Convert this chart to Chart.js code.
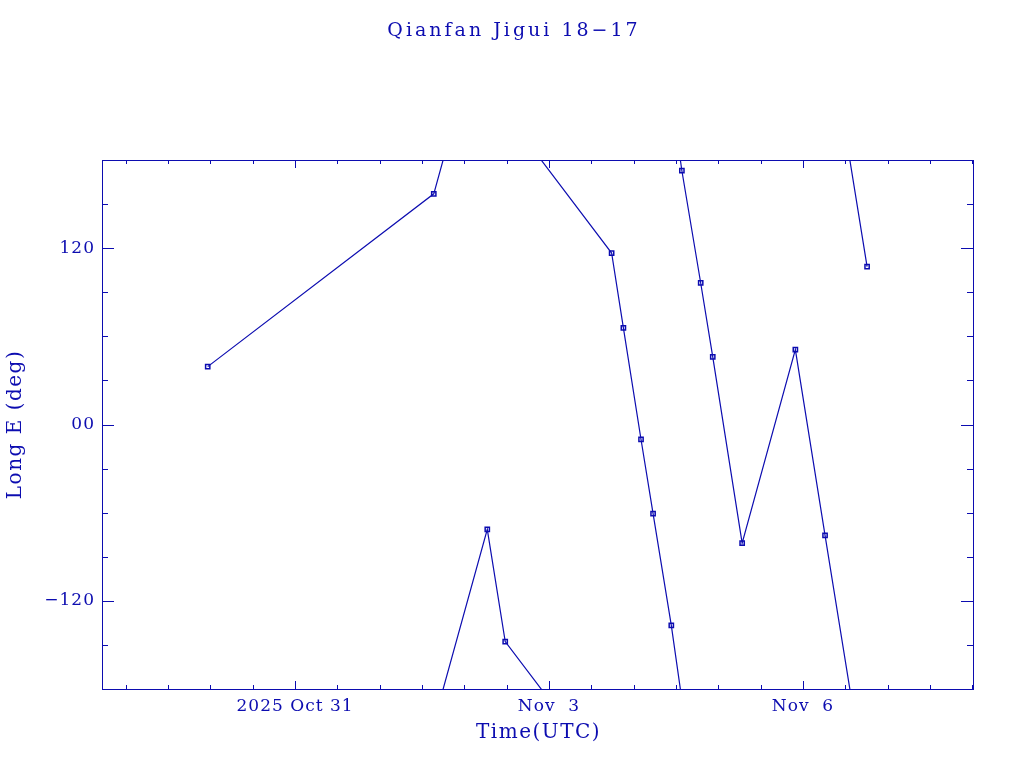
<!DOCTYPE html>
<html>
<head>
<meta charset="utf-8">
<script src="https://cdn.jsdelivr.net/npm/chart.js@4.4.1/dist/chart.umd.min.js"></script>
<style>
  html, body { margin: 0; padding: 0; background: #fff; }
  #wrap { width: 1024px; height: 768px; }
</style>
</head>
<body>
<div id="wrap"><canvas id="c"></canvas></div>
<script>
// observation times (UTC, 2025) and east longitude, deg
const obsTimes = [
  "10-29 23:15", "11-01 15:20", "11-02 06:30", "11-02 11:35",
  "11-03 17:45", "11-03 21:05", "11-04 02:05", "11-04 05:30",
  "11-04 10:40", "11-04 13:40", "11-04 19:00", "11-04 22:25",
  "11-05 06:45", "11-05 21:50", "11-06 06:15", "11-06 18:10"
];
const longE = [
  39.4, 157.0, -71.4, -147.7,
  116.7, 65.7, -10.2, -60.7,
  -136.7, 172.7, 96.3, 46.0,
  -80.7, 51.0, -75.5, 107.4
];

const xTickDays = [0, 3, 6];
const xTickLabels = ["2025 Oct 31", "Nov  3", "Nov  6"];
const yTicks = [-120, 0, 120];
const yTickLabels = ["\u2212120", "00", "120"];

const titleText = "Qianfan Jigui 18\u221217";
const xTitle = "Time(UTC)";
const yTitle = "Long E (deg)";

const X_MIN = -2.28, X_MAX = 8.008;
const Y_MIN = -180, Y_MAX = 180;

const BLUE = "#0c0cb0";
const FONT = "'DejaVu Serif', serif";

const t0 = Date.UTC(2025, 9, 31);
function toDay(s) {
  const [md, hm] = s.split(" ");
  const [mo, d] = md.split("-").map(Number);
  const [h, mi] = hm.split(":").map(Number);
  return (Date.UTC(2025, mo - 1, d, h, mi) - t0) / 86400000;
}

const pts = obsTimes.map((s, i) => ({ x: toDay(s), y: longE[i] }));

// track with wrap-around at +-180: shifted copies of the neighbours, clipped by the chart area
const track = [pts[0]];
for (let i = 1; i < pts.length; i++) {
  const a = pts[i - 1], b = pts[i];
  const diff = b.y - a.y;
  if (diff < -180) {
    track.push({ x: b.x, y: b.y + 360 }, { x: b.x, y: null }, { x: a.x, y: a.y - 360 });
  } else if (diff > 180) {
    track.push({ x: b.x, y: b.y - 360 }, { x: b.x, y: null }, { x: a.x, y: a.y + 360 });
  }
  track.push(b);
}

const framePlugin = {
  id: "frame",
  beforeDraw(chart) {
    chart.ctx.letterSpacing = "1px";
  },
  afterDraw(chart) {
    const { ctx, chartArea: ca, scales } = chart;
    const xs = scales.x, ys = scales.y;
    ctx.save();
    ctx.strokeStyle = BLUE;
    ctx.lineWidth = 1;
    ctx.strokeRect(ca.left + 0.5, ca.top + 0.5, ca.right - ca.left, ca.bottom - ca.top);
    ctx.beginPath();
    for (let d = Math.ceil(X_MIN * 2) / 2; d <= X_MAX; d += 0.5) {
      const px = Math.round(xs.getPixelForValue(d)) + 0.5;
      const len = (Math.abs(d % 3) < 1e-6) ? 8 : 4;
      ctx.moveTo(px, ca.bottom); ctx.lineTo(px, ca.bottom - len);
      ctx.moveTo(px, ca.top); ctx.lineTo(px, ca.top + len);
    }
    for (let v = Y_MIN + 30; v < Y_MAX; v += 30) {
      const py = Math.round(ys.getPixelForValue(v)) + 0.5;
      const len = (v % 120 === 0) ? 12 : 6;
      ctx.moveTo(ca.left, py); ctx.lineTo(ca.left + len, py);
      ctx.moveTo(ca.right, py); ctx.lineTo(ca.right - len, py);
    }
    ctx.stroke();

    ctx.fillStyle = BLUE;
    ctx.textAlign = "center";
    ctx.textBaseline = "middle";
    ctx.letterSpacing = "3px";
    ctx.font = "19px " + FONT;
    ctx.fillText(titleText, 514, 31);
    ctx.letterSpacing = "1.5px";
    ctx.font = "20px " + FONT;
    ctx.fillText(xTitle, (ca.left + ca.right) / 2 + 1, 733);
    ctx.save();
    ctx.translate(16, (ca.top + ca.bottom) / 2);
    ctx.rotate(-Math.PI / 2);
    ctx.fillText(yTitle, 0, 0);
    ctx.restore();
    ctx.restore();
  }
};

new Chart(document.getElementById("c"), {
  data: {
    datasets: [
      {
        type: "line",
        data: track,
        borderColor: BLUE,
        borderWidth: 1.2,
        pointRadius: 0,
        spanGaps: false,
        tension: 0,
        clip: 0
      },
      {
        type: "scatter",
        data: pts,
        pointStyle: "rect",
        pointRadius: 3,
        borderColor: BLUE,
        backgroundColor: "rgba(0,0,0,0)",
        pointBorderWidth: 1.5,
        clip: 0
      }
    ]
  },
  options: {
    responsive: true,
    maintainAspectRatio: false,
    animation: false,
    layout: { padding: { top: 160, right: 51, left: 0, bottom: 0 } },
    plugins: { legend: { display: false }, tooltip: { enabled: false } },
    scales: {
      x: {
        type: "linear",
        min: X_MIN,
        max: X_MAX,
        grid: { display: false, drawTicks: false },
        border: { display: false },
        afterBuildTicks(scale) { scale.ticks = xTickDays.map(v => ({ value: v })); },
        afterFit(scale) { scale.height = 79; },
        ticks: {
          color: BLUE,
          font: { family: FONT, size: 17 },
          padding: 7,
          maxRotation: 0,
          autoSkip: false,
          callback: (v) => xTickLabels[xTickDays.indexOf(v)]
        }
      },
      y: {
        type: "linear",
        min: Y_MIN,
        max: Y_MAX,
        grid: { display: false, drawTicks: false },
        border: { display: false },
        afterBuildTicks(scale) { scale.ticks = yTicks.map(v => ({ value: v })); },
        afterFit(scale) { scale.width = 102; },
        ticks: {
          color: BLUE,
          font: { family: FONT, size: 17 },
          padding: 7,
          autoSkip: false,
          callback: (v) => yTickLabels[yTicks.indexOf(v)]
        }
      }
    }
  },
  plugins: [framePlugin]
});
</script>
</body>
</html>
